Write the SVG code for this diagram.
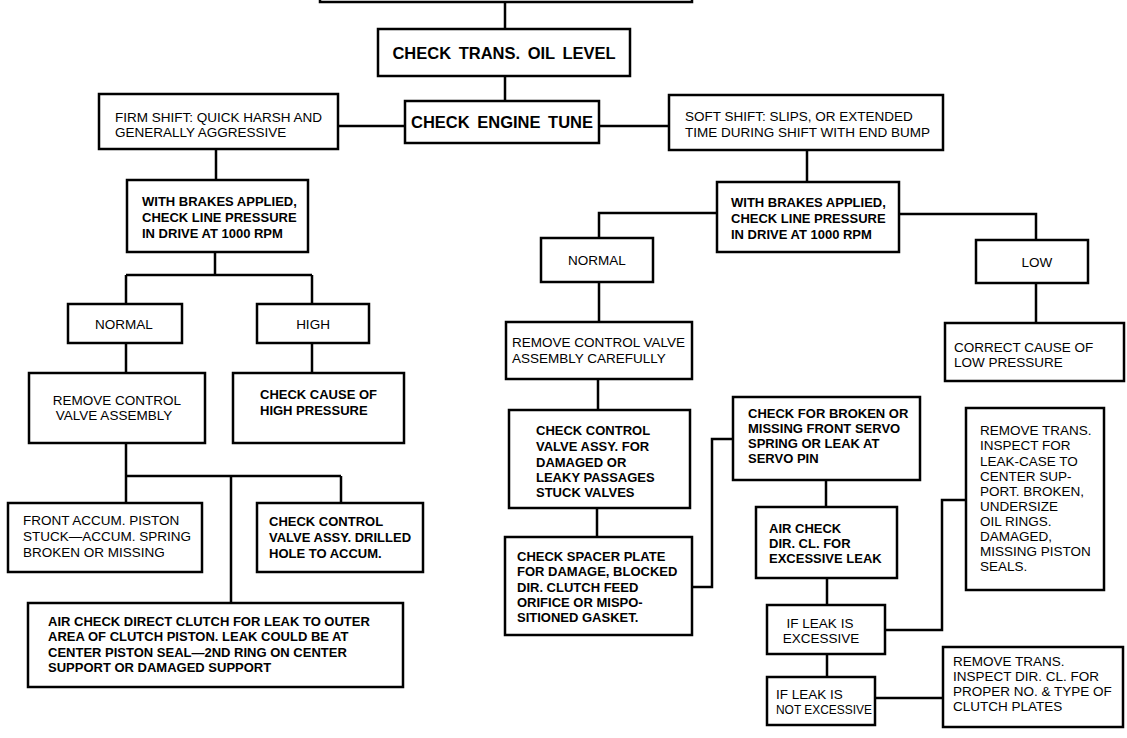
<svg xmlns="http://www.w3.org/2000/svg" width="1127" height="738" viewBox="0 0 1127 738">
<style>
.b{fill:#fff;stroke:#000;stroke-width:2.5}
.c{fill:none;stroke:#000;stroke-width:2.5}
text{font-family:"Liberation Sans",Arial,sans-serif;fill:#000}
.r{font-size:13.5px}
.k{font-size:13px;font-weight:bold}
.h{font-size:16.5px;font-weight:bold;word-spacing:3px}
.m{text-anchor:middle}
</style>
<rect width="1127" height="738" fill="#fff"/>
<g id="connectors">
<path class="c" d="M505 2V29M505 76V101M338 126H405M599 126H669M216 149V180M807 150V182"/>
<path class="c" d="M215 252V275M126 275H312M126 275V304M312 275V304M126 343V373M312 343V373"/>
<path class="c" d="M126 443V476M126 476H341M126 476V503M341 476V503M231 476V603"/>
<path class="c" d="M717 213H599V238M899 214H1036V240M599 282V322M598 379V410M597 508V537M1036 283V323"/>
<path class="c" d="M692 587H712V439H733M826 480V507M827 578V605M827 654V677M885 630H942V500H966M875 698H943"/>
</g>
<g id="n_top"><rect class="b" x="320" y="-40" width="372" height="42"/></g>
<g id="n_trans"><rect class="b" x="378" y="29" width="252" height="47"/><text class="h m" x="504" y="59">CHECK TRANS. OIL LEVEL</text></g>
<g id="n_engine"><rect class="b" x="405" y="101" width="194" height="42"/><text class="h m" x="502" y="128">CHECK ENGINE TUNE</text></g>
<g id="n_firm"><rect class="b" x="99" y="94" width="239" height="55"/><text class="r" x="115" y="122">FIRM SHIFT: QUICK HARSH AND</text><text class="r" x="115" y="137">GENERALLY AGGRESSIVE</text></g>
<g id="n_soft"><rect class="b" x="669" y="95" width="274" height="55"/><text class="r" x="685" y="121">SOFT SHIFT: SLIPS, OR EXTENDED</text><text class="r" x="685" y="137">TIME DURING SHIFT WITH END BUMP</text></g>
<g id="n_lwb"><rect class="b" x="127" y="180" width="181" height="72"/><text class="k" x="142" y="206">WITH BRAKES APPLIED,</text><text class="k" x="142" y="222">CHECK LINE PRESSURE</text><text class="k" x="142" y="238">IN DRIVE AT 1000 RPM</text></g>
<g id="n_rwb"><rect class="b" x="717" y="182" width="182" height="70"/><text class="k" x="731" y="207">WITH BRAKES APPLIED,</text><text class="k" x="731" y="223">CHECK LINE PRESSURE</text><text class="k" x="731" y="239">IN DRIVE AT 1000 RPM</text></g>
<g id="n_lnormal"><rect class="b" x="68" y="304" width="114" height="39"/><text class="r m" x="124" y="329">NORMAL</text></g>
<g id="n_high"><rect class="b" x="257" y="304" width="112" height="39"/><text class="r m" x="313" y="329">HIGH</text></g>
<g id="n_lremove"><rect class="b" x="29" y="373" width="176" height="70"/><text class="r m" x="117" y="405">REMOVE CONTROL</text><text class="r m" x="114" y="420">VALVE ASSEMBLY</text></g>
<g id="n_cause"><rect class="b" x="233" y="373" width="171" height="70"/><text class="k" x="260" y="399">CHECK CAUSE OF</text><text class="k" x="260" y="415">HIGH PRESSURE</text></g>
<g id="n_front"><rect class="b" x="8" y="503" width="194" height="69"/><text class="r" x="23" y="525">FRONT ACCUM. PISTON</text><text class="r" x="23" y="541">STUCK—ACCUM. SPRING</text><text class="r" x="23" y="557">BROKEN OR MISSING</text></g>
<g id="n_ccv"><rect class="b" x="257" y="503" width="166" height="69"/><text class="k" x="269" y="526">CHECK CONTROL</text><text class="k" x="269" y="542">VALVE ASSY. DRILLED</text><text class="k" x="269" y="558">HOLE TO ACCUM.</text></g>
<g id="n_airdirect"><rect class="b" x="28" y="603" width="375" height="84"/><text class="k" x="48" y="626">AIR CHECK DIRECT CLUTCH FOR LEAK TO OUTER</text><text class="k" x="48" y="641">AREA OF CLUTCH PISTON. LEAK COULD BE AT</text><text class="k" x="48" y="657">CENTER PISTON SEAL—2ND RING ON CENTER</text><text class="k" x="48" y="672">SUPPORT OR DAMAGED SUPPORT</text></g>
<g id="n_rnormal"><rect class="b" x="541" y="238" width="112" height="44"/><text class="r m" x="597" y="265">NORMAL</text></g>
<g id="n_low"><rect class="b" x="976" y="240" width="112" height="43"/><text class="r m" x="1037" y="267">LOW</text></g>
<g id="n_rremove"><rect class="b" x="506" y="322" width="186" height="57"/><text class="r" x="512" y="347">REMOVE CONTROL VALVE</text><text class="r" x="512" y="363">ASSEMBLY CAREFULLY</text></g>
<g id="n_correct"><rect class="b" x="945" y="323" width="179" height="58"/><text class="r" x="954" y="352">CORRECT CAUSE OF</text><text class="r" x="954" y="367">LOW PRESSURE</text></g>
<g id="n_assy"><rect class="b" x="509" y="410" width="181" height="98"/><text class="k" x="536" y="435">CHECK CONTROL</text><text class="k" x="536" y="451">VALVE ASSY. FOR</text><text class="k" x="536" y="467">DAMAGED OR</text><text class="k" x="536" y="482">LEAKY PASSAGES</text><text class="k" x="536" y="497">STUCK VALVES</text></g>
<g id="n_spacer"><rect class="b" x="505" y="537" width="187" height="98"/><text class="k" x="517" y="561">CHECK SPACER PLATE</text><text class="k" x="517" y="576">FOR DAMAGE, BLOCKED</text><text class="k" x="517" y="592">DIR. CLUTCH FEED</text><text class="k" x="517" y="607">ORIFICE OR MISPO-</text><text class="k" x="517" y="622">SITIONED GASKET.</text></g>
<g id="n_broken"><rect class="b" x="733" y="397" width="187" height="83"/><text class="k" x="748" y="418">CHECK FOR BROKEN OR</text><text class="k" x="748" y="433">MISSING FRONT SERVO</text><text class="k" x="748" y="448">SPRING OR LEAK AT</text><text class="k" x="748" y="463">SERVO PIN</text></g>
<g id="n_aircl"><rect class="b" x="756" y="507" width="141" height="71"/><text class="k" x="769" y="533">AIR CHECK</text><text class="k" x="769" y="548">DIR. CL. FOR</text><text class="k" x="769" y="563">EXCESSIVE LEAK</text></g>
<g id="n_ifex"><rect class="b" x="767" y="605" width="118" height="49"/><text class="r m" x="820" y="628">IF LEAK IS</text><text class="r m" x="821" y="643">EXCESSIVE</text></g>
<g id="n_notex"><rect class="b" x="767" y="677" width="108" height="48"/><text class="r" x="776" y="699">IF LEAK IS</text><text class="r" x="776" y="714" textLength="96" lengthAdjust="spacingAndGlyphs">NOT EXCESSIVE</text></g>
<g id="n_leak"><rect class="b" x="966" y="408" width="138" height="182"/><text class="r" x="980" y="435">REMOVE TRANS.</text><text class="r" x="980" y="450">INSPECT FOR</text><text class="r" x="980" y="466">LEAK-CASE TO</text><text class="r" x="980" y="481">CENTER SUP-</text><text class="r" x="980" y="496">PORT. BROKEN,</text><text class="r" x="980" y="511">UNDERSIZE</text><text class="r" x="980" y="526">OIL RINGS.</text><text class="r" x="980" y="541">DAMAGED,</text><text class="r" x="980" y="556">MISSING PISTON</text><text class="r" x="980" y="571">SEALS.</text></g>
<g id="n_dircl"><rect class="b" x="943" y="647" width="180" height="80"/><text class="r" x="953" y="666">REMOVE TRANS.</text><text class="r" x="953" y="681">INSPECT DIR. CL. FOR</text><text class="r" x="953" y="696">PROPER NO. &amp; TYPE OF</text><text class="r" x="953" y="711">CLUTCH PLATES</text></g>
</svg>
